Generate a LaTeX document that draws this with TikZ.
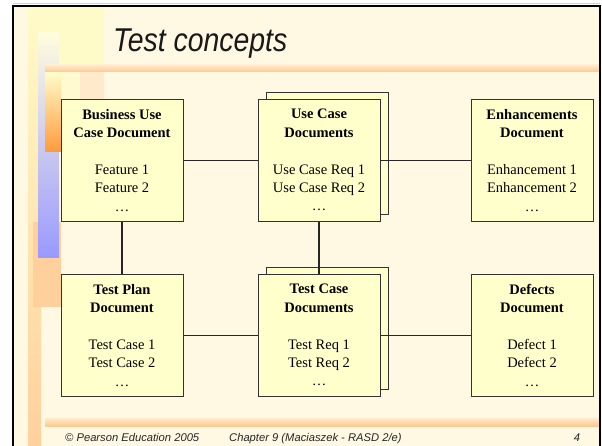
\documentclass[tikz,border=0pt]{standalone}
\usepackage{fontspec}
\setmainfont{Liberation Serif}
\newfontfamily\slidesans{Liberation Sans}
\usetikzlibrary{positioning,shadows}
\definecolor{slideCream}{RGB}{255,248,227}
\definecolor{slideYellow}{RGB}{255,251,200}
\definecolor{slidePeach}{RGB}{255,208,156}
\definecolor{slideBlue}{RGB}{153,153,255}
\definecolor{slideOrange}{RGB}{255,154,58}
\definecolor{barLight}{RGB}{255,234,203}
\definecolor{barPeach}{RGB}{255,200,144}
\definecolor{boxFill}{RGB}{255,255,204}
\definecolor{boxEdge}{RGB}{51,51,51}
\definecolor{lineDark}{RGB}{38,38,38}

\begin{document}
\begin{tikzpicture}[x=1pt,y=1pt,
    docbox/.style={draw=boxEdge, fill=boxFill, line width=1pt,
        minimum width=122pt, minimum height=122pt, inner sep=0pt,
        align=center, font=\fontsize{14.5}{18.4}\selectfont},
    stackbox/.style={docbox, general shadow={shadow xshift=8pt, shadow yshift=7pt,
        draw=boxEdge, fill=boxFill, line width=1pt}},
    link/.style={draw=lineDark, line width=1.3pt}]

    \useasboundingbox (0,0) rectangle (602,445);

    % =========================
    % Slide background
    % =========================
    \fill[slideCream] (13,-5) rectangle (600,439);
    \fill[slideYellow] (28,380) rectangle (104,439);
    \fill[slideYellow!70!slideCream] (45,335) rectangle (80,373);
    \fill[barLight] (80,335) rectangle (104,373);
    \shade[top color=slideYellow, bottom color=slidePeach] (28,-5) rectangle (41,439);
    \fill[slidePeach] (33,138) rectangle (61,223);
    \shade[top color=slideYellow!60!white, bottom color=slideBlue] (38,188) rectangle (59,412);
    \shade[top color=slideYellow, bottom color=slideOrange] (45,293) rectangle (61,372);

    % bars under the title and above the footer
    \shade[top color=barLight, bottom color=barPeach] (45,373) rectangle (600,380);
    \shade[top color=barLight, bottom color=barPeach] (45,19) rectangle (600,27);

    % frame
    \draw[gray!35, line width=0.8pt] (13,441.8) -- (600,441.8);
    \draw[black, line width=2pt] (13,-5) rectangle (600,439);

    % title
    \node[anchor=base west, inner sep=0pt, text=black!90,
          font=\slidesans\itshape\fontsize{33}{36}\selectfont] (title) at (113,393)
        {\scalebox{0.86}[1]{Test concepts}};

    % =========================
    % Documents
    % =========================
    \node[docbox] (bucd) at (122,284.75)
        {\textbf{Business Use}\\\textbf{Case Document}\\[18.4pt]Feature 1\\Feature 2\\\ldots};
    \node[stackbox, right=74pt of bucd] (ucd)
        {\textbf{Use Case}\\\textbf{Documents}\\[18.4pt]Use Case Req 1\\Use Case Req 2\\\ldots};
    \node[docbox, right=90pt of ucd] (enh)
        {\textbf{Enhancements}\\\textbf{Document}\\[18.4pt]Enhancement 1\\Enhancement 2\\\ldots};

    \node[docbox, below=52pt of bucd] (tpd)
        {\textbf{Test Plan}\\\textbf{Document}\\[18.4pt]Test Case 1\\Test Case 2\\\ldots};
    \node[stackbox, right=74pt of tpd] (tcd)
        {\textbf{Test Case}\\\textbf{Documents}\\[18.4pt]Test Req 1\\Test Req 2\\\ldots};
    \node[docbox, right=90pt of tcd] (dd)
        {\textbf{Defects}\\\textbf{Document}\\[18.4pt]Defect 1\\Defect 2\\\ldots};

    % links
    \draw[link] (bucd) -- (ucd);
    \draw[link] (ucd) -- (enh);
    \draw[link] (tpd) -- (tcd);
    \draw[link] (tcd) -- (dd);
    \draw[link] (bucd) -- (tpd);
    \draw[link] (ucd) -- (tcd);

    % =========================
    % Footer
    % =========================
    \begin{scope}[every node/.style={inner sep=0pt, text=black!85,
            font=\slidesans\itshape\fontsize{11.2}{13}\selectfont}]
        \node[anchor=base west] (copy) at (65,4) {\textcopyright\ Pearson Education 2005};
        \node[anchor=base west] (chap) at (229,4) {Chapter 9 (Maciaszek - RASD 2/e)};
        \node[anchor=base] (page) at (577,4) {4};
    \end{scope}

\end{tikzpicture}
\end{document}
